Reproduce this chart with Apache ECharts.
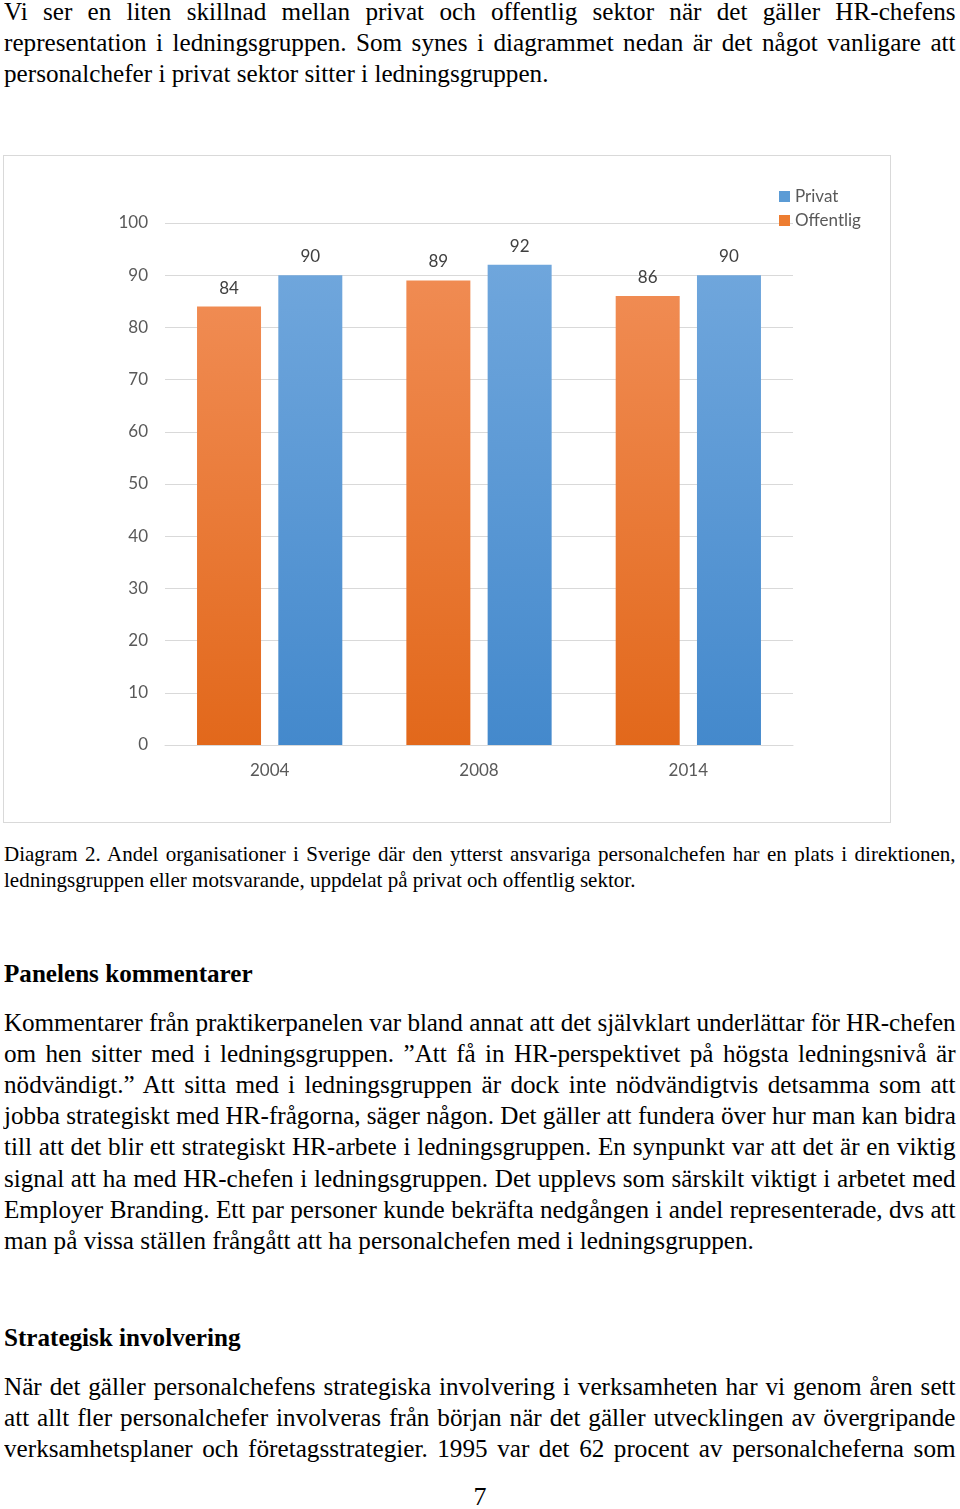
<!DOCTYPE html>
<html>
<head>
<meta charset="utf-8">
<script src="https://cdn.jsdelivr.net/npm/echarts@6/dist/echarts.min.js"></script>
<style>
  html, body { margin:0; padding:0; background:#fff; }
  body { width:960px; height:1509px; position:relative; overflow:hidden; color:#000; }
  .blk { position:absolute; left:4px; transform-origin:0 0; font-family:"Liberation Serif","Times New Roman",serif; }
  .body { font-size:26px; line-height:31.2px; width:983px; transform:scaleX(0.968); }
  .cap { font-size:21.5px; line-height:26px; width:973px; transform:scaleX(0.978); }
  .h { font-size:26px; line-height:31px; font-weight:bold; transform:scaleX(0.966); white-space:nowrap; }
  .j { text-align:justify; text-align-last:justify; white-space:nowrap; overflow:visible; }
  .l { text-align:left; white-space:nowrap; }
  #chart { position:absolute; left:3px; top:155px; width:888px; height:668px; }
  #frame { position:absolute; left:3px; top:155px; width:886px; height:666px; border:1px solid #d9d9d9; pointer-events:none; }
  .pn { position:absolute; left:0; width:960px; text-align:center; top:1481px; font-family:"Liberation Serif",serif; font-size:26px; line-height:31px; }
</style>
</head>
<body>
<div class="blk body" style="top:-4.5px">
  <div class="j">Vi ser en liten skillnad mellan privat och offentlig sektor när det gäller HR-chefens</div>
  <div class="j">representation i ledningsgruppen. Som synes i diagrammet nedan är det något vanligare att</div>
  <div class="l">personalchefer i privat sektor sitter i ledningsgruppen.</div>
</div>

<div id="chart"></div>
<div id="frame"></div>

<div class="blk cap" style="top:841px">
  <div class="j">Diagram 2. Andel organisationer i Sverige där den ytterst ansvariga personalchefen har en plats i direktionen,</div>
  <div class="l">ledningsgruppen eller motsvarande, uppdelat på privat och offentlig sektor.</div>
</div>

<div class="blk h" style="top:957.5px">Panelens kommentarer</div>

<div class="blk body" style="top:1006.5px">
  <div class="j">Kommentarer från praktikerpanelen var bland annat att det självklart underlättar för HR-chefen</div>
  <div class="j">om hen sitter med i ledningsgruppen. ”Att få in HR-perspektivet på högsta ledningsnivå är</div>
  <div class="j">nödvändigt.” Att sitta med i ledningsgruppen är dock inte nödvändigtvis detsamma som att</div>
  <div class="j">jobba strategiskt med HR-frågorna, säger någon. Det gäller att fundera över hur man kan bidra</div>
  <div class="j">till att det blir ett strategiskt HR-arbete i ledningsgruppen. En synpunkt var att det är en viktig</div>
  <div class="j">signal att ha med HR-chefen i ledningsgruppen. Det upplevs som särskilt viktigt i arbetet med</div>
  <div class="j">Employer Branding. Ett par personer kunde bekräfta nedgången i andel representerade, dvs att</div>
  <div class="l">man på vissa ställen frångått att ha personalchefen med i ledningsgruppen.</div>
</div>

<div class="blk h" style="top:1321.5px">Strategisk involvering</div>

<div class="blk body" style="top:1370.5px">
  <div class="j">När det gäller personalchefens strategiska involvering i verksamheten har vi genom åren sett</div>
  <div class="j">att allt fler personalchefer involveras från början när det gäller utvecklingen av övergripande</div>
  <div class="j">verksamhetsplaner och företagsstrategier. 1995 var det 62 procent av personalcheferna som</div>
</div>

<div class="pn">7</div>

<script>
// Fit justified lines that are naturally wider than their box
document.querySelectorAll('.j').forEach(el => {
  el.style.textAlignLast = 'left';
  el.style.textAlign = 'left';
  const over = el.scrollWidth - el.clientWidth;
  if (over > 0) {
    const n = el.textContent.length;
    el.style.letterSpacing = (-(over + 2) / n).toFixed(3) + 'px';
  }
  el.style.textAlign = '';
  el.style.textAlignLast = '';
});

const years = ['2004', '2008', '2014'];
const privat = [90, 92, 90];
const offentlig = [84, 89, 86];
const seriesNames = ['Privat', 'Offentlig'];
const yMin = 0, yMax = 100, yStep = 10;

const chart = echarts.init(document.getElementById('chart'), null, { renderer: 'canvas' });
const grad = (top, bottom) => new echarts.graphic.LinearGradient(0, 0, 0, 1, [
  { offset: 0, color: top }, { offset: 1, color: bottom }
]);
const font = 'Lato, "Open Sans", sans-serif';
chart.setOption({
  animation: false,
  backgroundColor: '#ffffff',
  grid: { left: 162, top: 68, width: 628, height: 522, containLabel: false },
  legend: {
    orient: 'vertical', left: 771, top: 28, padding: 5,
    itemWidth: 11, itemHeight: 11, itemGap: 7,
    icon: 'rect',
    textStyle: { fontFamily: font, fontSize: 17, color: '#595959', lineHeight: 17 },
    data: [
      { name: seriesNames[0], itemStyle: { color: '#5b9bd5' } },
      { name: seriesNames[1], itemStyle: { color: '#ed7d31' } }
    ]
  },
  xAxis: {
    type: 'category', data: years,
    axisLine: { lineStyle: { color: '#d9d9d9', width: 1 } },
    axisTick: { show: false },
    axisLabel: { fontFamily: font, fontSize: 17, color: '#595959', margin: 17 }
  },
  yAxis: {
    type: 'value', min: yMin, max: yMax, interval: yStep,
    axisLine: { show: false }, axisTick: { show: false },
    splitLine: { lineStyle: { color: '#d9d9d9', width: 1 } },
    axisLabel: { fontFamily: font, fontSize: 17, color: '#595959', margin: 17 }
  },
  series: [
    {
      name: seriesNames[1], type: 'bar', data: offentlig,
      barWidth: 64, barGap: '27%',
      itemStyle: { color: grad('#f08b52', '#e2681b') },
      label: { show: true, position: 'top', distance: 10, fontFamily: font, fontSize: 17, color: '#404040' }
    },
    {
      name: seriesNames[0], type: 'bar', data: privat,
      barWidth: 64, barGap: '27%',
      itemStyle: { color: grad('#6fa6dc', '#4489cc') },
      label: { show: true, position: 'top', distance: 10, fontFamily: font, fontSize: 17, color: '#404040' }
    }
  ]
});
</script>
</body>
</html>
